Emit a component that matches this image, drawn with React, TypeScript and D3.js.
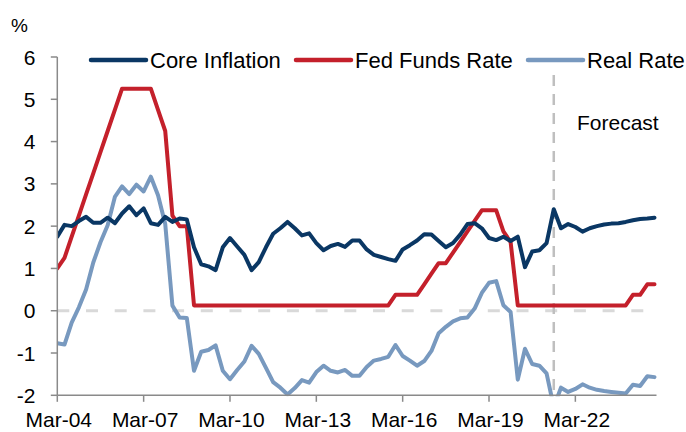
import React from 'react';
import * as d3 from 'd3';

// Quarterly observations, Mar-04 .. Dec-24
const startYear = 2004;
const quarterMonths = ['Mar', 'Jun', 'Sep', 'Dec'];

const coreInflation = [
  1.75, 2.03, 2.0, 2.12, 2.22, 2.08, 2.08, 2.2, 2.07, 2.3,
  2.47, 2.26, 2.42, 2.07, 2.03, 2.22, 2.1, 2.18, 2.16, 1.5,
  1.1, 1.05, 0.96, 1.5, 1.72, 1.52, 1.32, 0.96, 1.15, 1.5,
  1.82, 1.95, 2.1, 1.95, 1.78, 1.83, 1.6, 1.43, 1.53, 1.58,
  1.51, 1.66, 1.66, 1.45, 1.32, 1.27, 1.22, 1.18, 1.45, 1.55,
  1.66, 1.81, 1.8, 1.65, 1.5, 1.6, 1.8, 2.05, 2.07, 1.95,
  1.72, 1.67, 1.75, 1.65, 1.75, 1.03, 1.4, 1.43, 1.6, 2.4,
  1.95, 2.05, 1.98, 1.87, 1.95, 2.0, 2.04, 2.06, 2.07, 2.1,
  2.14, 2.17, 2.18, 2.2,
];

const fedFundsRate = [
  1.0, 1.25, 1.75, 2.25, 2.75, 3.25, 3.75, 4.25, 4.75, 5.25,
  5.25, 5.25, 5.25, 5.25, 4.75, 4.25, 2.25, 2.0, 2.0, 0.125,
  0.125, 0.125, 0.125, 0.125, 0.125, 0.125, 0.125, 0.125, 0.125, 0.125,
  0.125, 0.125, 0.125, 0.125, 0.125, 0.125, 0.125, 0.125, 0.125, 0.125,
  0.125, 0.125, 0.125, 0.125, 0.125, 0.125, 0.125, 0.375, 0.375, 0.375,
  0.375, 0.625, 0.875, 1.125, 1.125, 1.375, 1.625, 1.875, 2.125, 2.375,
  2.375, 2.375, 1.875, 1.625, 0.125, 0.125, 0.125, 0.125, 0.125, 0.125,
  0.125, 0.125, 0.125, 0.125, 0.125, 0.125, 0.125, 0.125, 0.125, 0.125,
  0.375, 0.375, 0.625, 0.625,
];

const realRate = [
  -0.77, -0.8, -0.28, 0.08, 0.5, 1.14, 1.62, 2.02, 2.69, 2.94,
  2.76, 2.98, 2.82, 3.17, 2.73, 2.05, 0.12, -0.16, -0.17, -1.42,
  -0.97, -0.93, -0.82, -1.42, -1.62, -1.4, -1.2, -0.83, -1.02, -1.35,
  -1.69, -1.82, -1.98, -1.83, -1.64, -1.7, -1.45, -1.3, -1.42, -1.46,
  -1.4, -1.54, -1.54, -1.33, -1.18, -1.14, -1.09, -0.81, -1.07, -1.18,
  -1.3, -1.19, -0.95, -0.53, -0.38, -0.25, -0.18, -0.16, 0.05, 0.42,
  0.66, 0.7, 0.13, -0.03, -1.63, -0.9, -1.26, -1.3, -1.48, -2.28,
  -1.82, -1.92, -1.85, -1.74, -1.82, -1.87, -1.9, -1.92, -1.94, -1.96,
  -1.75, -1.78, -1.55, -1.57,
];

const quarterLabels = coreInflation.map(
  (_, i) => `${quarterMonths[i % 4]}-${String((startYear + Math.floor(i / 4)) % 100).padStart(2, '0')}`
);
const xTickLabels = ['Mar-04', 'Mar-07', 'Mar-10', 'Mar-13', 'Mar-16', 'Mar-19', 'Mar-22'];
const yTicks = [-2, -1, 0, 1, 2, 3, 4, 5, 6];
const forecastStart = 'Jun-21';

const seriesNames = ['Core Inflation', 'Fed Funds Rate', 'Real Rate'];
const seriesColors = ['#0a3764', '#c4202b', '#7899bf'];
const seriesData = [coreInflation, fedFundsRate, realRate];

const W = 686;
const H = 432;
const FONT = 'Liberation Sans, Arial, sans-serif';

export default function App() {
  const x = d3.scaleLinear().domain([0, quarterLabels.length - 1]).range([57.3, 654.5]);
  const y = d3.scaleLinear().domain([-2, 6]).range([395.3, 57]);
  const line = d3
    .line<number>()
    .x((_, i) => x(i))
    .y((d) => y(d))
    .curve(d3.curveLinear);

  const axisColor = '#8a8a8a';
  const x0 = x(0);
  const xEnd = x.range()[1] + 2;
  const yBottom = y(-2);
  const fIdx = quarterLabels.indexOf(forecastStart);

  const legendX = [91, 296, 528];

  return (
    <svg
      width={W}
      height={H}
      style={{ position: 'absolute', left: 0, top: 0, background: '#fff' }}
      fontFamily={FONT}
    >
      <defs>
        <clipPath id="plot">
          <rect x={x0} y={0} width={W - x0} height={yBottom + 1} />
        </clipPath>
      </defs>

      <text x={11} y={32} fontSize={19} fill="#000">%</text>

      {/* zero line */}
      <line
        x1={x0}
        x2={xEnd}
        y1={y(0)}
        y2={y(0)}
        stroke="#d9d9d9"
        strokeWidth={3}
        strokeDasharray="12,16.7"
      />

      {/* forecast divider */}
      <line
        x1={x(fIdx)}
        x2={x(fIdx)}
        y1={75}
        y2={yBottom}
        stroke="#bfbfbf"
        strokeWidth={2.5}
        strokeDasharray="11,8"
      />
      <text x={577} y={130} fontSize={21} fill="#000">Forecast</text>

      {/* series */}
      <g clipPath="url(#plot)">
        {[2, 1, 0].map((k) => (
          <path
            key={seriesNames[k]}
            d={line(seriesData[k]) || ''}
            fill="none"
            stroke={seriesColors[k]}
            strokeWidth={4}
            strokeLinejoin="round"
            strokeLinecap="round"
          />
        ))}
      </g>

      {/* y axis */}
      <line x1={x0} x2={x0} y1={y(6)} y2={yBottom} stroke={axisColor} strokeWidth={1.5} />
      {yTicks.map((t) => (
        <g key={t}>
          <line x1={x0 - 6.5} x2={x0} y1={y(t)} y2={y(t)} stroke={axisColor} strokeWidth={1.5} />
          <text x={35.5} y={y(t) + 7.5} fontSize={21} textAnchor="end" fill="#000">
            {t}
          </text>
        </g>
      ))}

      {/* x axis */}
      <line x1={x0} x2={xEnd} y1={yBottom} y2={yBottom} stroke={axisColor} strokeWidth={1.5} />
      {xTickLabels.map((lab) => {
        const i = quarterLabels.indexOf(lab);
        return (
          <g key={lab}>
            <line x1={x(i)} x2={x(i)} y1={yBottom} y2={yBottom + 6.5} stroke={axisColor} strokeWidth={1.5} />
            <text x={x(i) + 1.5} y={427} fontSize={21} textAnchor="middle" fill="#000">
              {lab}
            </text>
          </g>
        );
      })}

      {/* legend */}
      {seriesNames.map((name, k) => (
        <g key={name}>
          <line
            x1={legendX[k]}
            x2={legendX[k] + 55}
            y1={60}
            y2={60}
            stroke={seriesColors[k]}
            strokeWidth={4.5}
            strokeLinecap="round"
          />
          <text x={legendX[k] + 59} y={67.5} fontSize={22} fill="#000">
            {name}
          </text>
        </g>
      ))}
    </svg>
  );
}
